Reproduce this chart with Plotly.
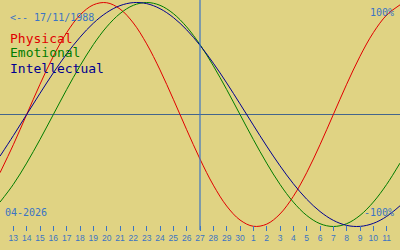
import plotly.graph_objects as go

# Day positions: 12 April 2026 .. 12 May 2026 (index 0..30), centre 27 April at index 15
day_index = list(range(31))
day_labels = ["12", "13", "14", "15", "16", "17", "18", "19", "20", "21", "22", "23", "24", "25", "26",
              "27", "28", "29", "30", "1", "2", "3", "4", "5", "6", "7", "8", "9", "10", "11", "12"]

physical = [-0.52, -0.27, 0.00, 0.27, 0.52, 0.731, 0.888, 0.979, 0.998, 0.942, 0.817, 0.631, 0.398, 0.136,
            -0.136, -0.398, -0.631, -0.817, -0.942, -0.998, -0.979, -0.888, -0.731, -0.52, -0.27, 0.00,
            0.27, 0.52, 0.731, 0.888, 0.979]
emotional = [-0.782, -0.624, -0.434, -0.223, 0.00, 0.223, 0.434, 0.624, 0.782, 0.901, 0.975, 1.00, 0.975,
             0.901, 0.782, 0.624, 0.434, 0.223, 0.00, -0.223, -0.434, -0.624, -0.782, -0.901, -0.975,
             -1.00, -0.975, -0.901, -0.782, -0.624, -0.434]
intellectual = [-0.372, -0.189, 0.00, 0.189, 0.372, 0.541, 0.690, 0.815, 0.910, 0.972, 0.999, 0.990, 0.945,
                0.866, 0.756, 0.618, 0.458, 0.282, 0.095, -0.095, -0.282, -0.458, -0.618, -0.756, -0.866,
                -0.945, -0.990, -0.999, -0.972, -0.910, -0.815]

tick_index = day_index[1:30]
tick_text = day_labels[1:30]
today_index = 15

BG = "#e0d383"
W, H = 400, 250

def px(x):
    return x / W

def py(y):
    return 1 - y / H

fig = go.Figure()
fig.add_trace(go.Scatter(x=day_index, y=physical, mode="lines", line=dict(color="#e00000", width=1, shape="spline"), hoverinfo="skip"))
fig.add_trace(go.Scatter(x=day_index, y=emotional, mode="lines", line=dict(color="#007c00", width=1, shape="spline"), hoverinfo="skip"))
fig.add_trace(go.Scatter(x=day_index, y=intellectual, mode="lines", line=dict(color="#000090", width=1, shape="spline"), hoverinfo="skip"))

fig.add_shape(type="line", xref="x", yref="paper", x0=today_index, x1=today_index, y0=py(230), y1=1,
              line=dict(color="#3b74c4", width=1.2))

mono = "DejaVu Sans Mono"
annos = [
    dict(text="<-- 17/11/1988", x=px(8), y=py(17), xanchor="left", font=dict(size=10, color="#3b74c4")),
    dict(text="Physical", x=px(8), y=py(38), xanchor="left", font=dict(size=13, color="#e00000")),
    dict(text="Emotional", x=px(8), y=py(53), xanchor="left", font=dict(size=13, color="#007c00")),
    dict(text="Intellectual", x=px(8), y=py(68), xanchor="left", font=dict(size=13, color="#000090")),
    dict(text="04-2026", x=px(3), y=py(212), xanchor="left", font=dict(size=10, color="#3b74c4")),
    dict(text="100%", x=px(396), y=py(12), xanchor="right", font=dict(size=10, color="#3b74c4")),
    dict(text="-100%", x=px(396), y=py(212), xanchor="right", font=dict(size=10, color="#3b74c4")),
]
for a in annos:
    a.update(xref="paper", yref="paper", yanchor="middle", showarrow=False)
    a["font"]["family"] = mono
fig.update_layout(annotations=annos)

fig.update_layout(
    width=W, height=H,
    margin=dict(l=0, r=0, t=0, b=0),
    paper_bgcolor=BG, plot_bgcolor=BG,
    showlegend=False,
    xaxis=dict(range=[0, 30], anchor="free", position=0.1, showgrid=False, zeroline=False, showline=False,
               tickmode="array", tickvals=tick_index, ticktext=tick_text, ticks="outside", ticklen=5,
               tickwidth=1, tickcolor="#3b74c4", ticklabelstandoff=0,
               tickfont=dict(family="Liberation Sans", size=8.5, color="#3b74c4")),
    yaxis=dict(range=[-1.2098, 1.0223], showgrid=False, showticklabels=False, showline=False,
               zeroline=True, zerolinecolor="#44658c", zerolinewidth=1),
)

fig.write_html("out.html")
